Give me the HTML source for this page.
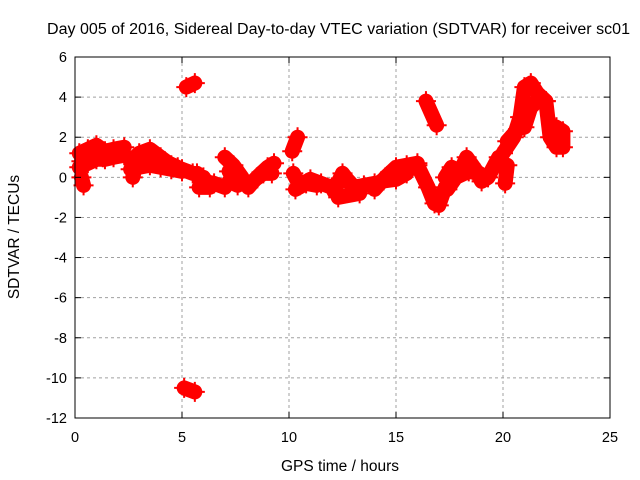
<!DOCTYPE html>
<html><head><meta charset="utf-8"><style>
body{margin:0;background:#fff}
svg{display:block;font-family:"Liberation Sans",sans-serif;font-size:14.5px}
</style></head><body>
<svg id="chart" width="640" height="480" viewBox="0 0 640 480">
<rect width="640" height="480" fill="#fff"/>
<text x="47" y="34" font-size="15.5" textLength="583" lengthAdjust="spacingAndGlyphs">Day 005 of 2016, Sidereal Day-to-day VTEC variation (SDTVAR) for receiver sc01</text>
<text x="340" y="471" text-anchor="middle" font-size="15.5">GPS time / hours</text>
<text transform="translate(19,237) rotate(-90)" text-anchor="middle" font-size="15.5">SDTVAR / TECUs</text>
<g id="grid"></g><g id="marks"></g>
<rect x="75" y="57" width="535" height="361" fill="none" stroke="#000" stroke-width="1"/>
<g id="ticks"></g>
</svg>
<script>
const xTicks=[0,5,10,15,20,25];
const yTicks=[-12,-10,-8,-6,-4,-2,0,2,4,6];
const trackA1=[[0.2,1.2],[0.6,1.4],[1.0,1.6],[1.4,1.3],[1.8,1.4],[2.3,1.5]];
const trackA2=[[0.2,0.5],[0.6,0.7],[1.0,0.9],[1.4,0.9],[1.8,1.0],[2.3,1.1]];
const trackA4=[[0.3,0.8],[0.8,1.1],[1.3,1.0],[2.0,1.2]];
const trackA3=[[0.3,0.0],[0.4,-0.4]];
const trackB1=[[2.6,0.8],[3.0,1.2],[3.5,1.4],[4.0,1.0],[4.5,0.6],[5.0,0.4],[5.5,0.2]];
const trackB2=[[2.6,0.4],[3.0,0.5],[3.5,0.6],[4.0,0.5],[4.5,0.4],[5.0,0.3]];
const trackB3=[[2.7,0.0],[2.9,0.9],[3.4,0.9],[4.2,0.8],[4.8,0.5]];
const trackC1=[[5.7,0.2],[6.0,-0.2],[6.5,-0.3],[7.0,-0.5]];
const trackC2=[[5.8,-0.5],[6.3,-0.5],[6.0,0.0]];
const trackD1=[[7.0,1.0],[7.4,0.6],[7.8,0.0]];
const trackD2=[[7.2,-0.2],[7.6,-0.4],[7.2,0.3]];
const trackE1=[[8.1,-0.5],[8.5,0.0],[9.0,0.5],[9.3,0.7]];
const trackE2=[[8.3,-0.2],[8.8,0.2],[9.2,0.2]];
const blobHigh=[[5.2,4.5],[5.6,4.7]];
const blobLow=[[5.1,-10.5],[5.6,-10.7]];
const trackF=[[10.15,1.3],[10.4,2.0]];
const trackG1=[[10.2,0.2],[10.5,-0.4],[11.0,-0.1],[11.5,-0.3],[12.0,-0.5]];
const trackG2=[[10.3,-0.6],[10.8,-0.3],[11.3,-0.4]];
const trackH1=[[12.1,-0.7],[12.5,0.2],[13.0,-0.5],[13.5,-0.4],[14.0,-0.3]];
const trackH2=[[12.3,-1.0],[13.3,-0.8],[12.8,-0.2]];
const trackI1=[[14.0,-0.6],[14.5,0.0],[15.0,0.5],[15.5,0.6],[16.0,0.7]];
const trackI2=[[14.3,-0.2],[15.0,-0.1],[15.5,0.2]];
const trackJ=[[16.0,0.6],[16.5,-0.5],[16.8,-1.3],[17.0,-1.4],[17.3,-0.5]];
const trackK=[[16.4,3.8],[16.9,2.6]];
const trackL=[[17.3,0.0],[17.6,0.5],[18.0,0.3],[18.3,1.0],[18.7,0.4],[19.0,-0.2],[19.3,0.0],[19.8,1.0]];
const trackL2=[[17.4,-0.6],[17.8,0.0],[18.4,0.3],[18.9,0.2]];
const trackM1=[[20.0,1.2],[20.5,2.0],[20.8,3.0],[21.0,4.5],[21.3,4.7],[21.6,4.2],[22.0,3.8]];
const trackM2=[[20.2,1.8],[20.7,2.4],[21.0,2.5],[21.3,3.5],[21.6,3.8]];
const trackN=[[22.0,3.8],[22.2,2.0],[22.5,1.5],[22.8,1.5],[22.8,2.3],[22.5,2.5]];
const trackO=[[20.2,0.6],[20.1,-0.3]];
const tracks=[trackA1,trackA2,trackA4,trackA3,trackB1,trackB2,trackB3,trackC1,trackC2,trackD1,trackD2,trackE1,trackE2,blobHigh,blobLow,trackF,trackG1,trackG2,trackH1,trackH2,trackI1,trackI2,trackJ,trackK,trackL,trackL2,trackM1,trackM2,trackN,trackO];

const X0=75,X1=610,Y0=418,Y1=57;
const xs=t=>X0+(t-0)/(25-0)*(X1-X0);
const ys=v=>Y0-(v+12)/(18)*(Y0-Y1);
const NS="http://www.w3.org/2000/svg";
const grid=document.getElementById('grid'),ticks=document.getElementById('ticks'),marks=document.getElementById('marks');
function mk(tag,attrs,parent){const e=document.createElementNS(NS,tag);for(const k in attrs)e.setAttribute(k,attrs[k]);parent.appendChild(e);return e;}
xTicks.forEach(t=>{
  const x=xs(t);
  if(t>0&&t<25){const g=mk('line',{x1:x,x2:x,y1:Y1,y2:Y0,stroke:'#a0a0a0','stroke-dasharray':'3,3'},grid);
  
  }
  mk('line',{x1:x,x2:x,y1:Y0,y2:Y0-6,stroke:'#000'},ticks);
  mk('line',{x1:x,x2:x,y1:Y1,y2:Y1+6,stroke:'#000'},ticks);
  const l=mk('text',{x:x,y:Y0+24,'text-anchor':'middle'},ticks);l.textContent=t;
  
  
});
yTicks.forEach(v=>{
  const y=ys(v);
  if(v>-12&&v<6){const g=mk('line',{x1:X0,x2:X1,y1:y,y2:y,stroke:'#a0a0a0','stroke-dasharray':'3,3'},grid);
  
  }
  mk('line',{x1:X0,x2:X0+6,y1:y,y2:y,stroke:'#000'},ticks);
  mk('line',{x1:X1,x2:X1-6,y1:y,y2:y,stroke:'#000'},ticks);
  const l=mk('text',{x:X0-8,y:y+5,'text-anchor':'end'},ticks);l.textContent=v;
  
  
});
tracks.forEach(tr=>{
  const pl=mk('polyline',{points:tr.map(p=>xs(p[0])+','+ys(p[1])).join(' '),fill:'none',stroke:'#f00','stroke-width':15,'stroke-linejoin':'round','stroke-linecap':'round'},marks);
  
  
  tr.forEach(p=>{
    const x=xs(p[0]),y=ys(p[1]);
    const m=mk('path',{d:`M${x-10},${y}H${x+10}M${x},${y-10}V${y+10}`,stroke:'#f00','stroke-width':2},marks);
    
    
  });
});
</script>
</body></html>
